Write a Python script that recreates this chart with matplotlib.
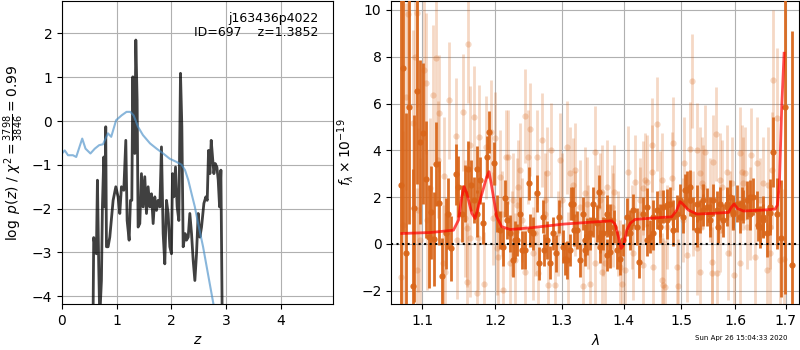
import matplotlib
matplotlib.use("Agg")
import matplotlib.pyplot as plt
from matplotlib.ticker import NullLocator, NullFormatter, FixedLocator, FixedFormatter

# ---- left panel: log p(z) ----
pz_z = [0.560, 0.568, 0.580, 0.605, 0.629, 0.648, 0.672, 0.690, 0.721, 0.739, 0.764, 0.782, 0.800, 0.813,
        0.843, 0.874, 0.935, 0.984, 1.026, 1.057, 1.087, 1.130, 1.167, 1.191, 1.228, 1.252, 1.277,
        1.295, 1.313, 1.331, 1.350, 1.374, 1.392, 1.423, 1.453, 1.484, 1.514, 1.545, 1.575, 1.606,
        1.636, 1.667, 1.697, 1.728, 1.758, 1.789, 1.819, 1.850, 1.880, 1.911, 1.941, 1.972, 2.002,
        2.021, 2.045, 2.076, 2.106, 2.137, 2.167, 2.192, 2.216, 2.253, 2.277, 2.308, 2.338, 2.369,
        2.399, 2.430, 2.460, 2.491, 2.522, 2.552, 2.595, 2.631, 2.656, 2.680, 2.705, 2.729, 2.753,
        2.778, 2.802, 2.833, 2.857, 2.882, 2.906, 2.930, 2.940]
pz_logp = [-6.0, -4.5, -2.66, -2.87, -3.03, -1.35, -3.33, -4.5, -3.64, -1.96, -0.82, -1.96, -0.13, -2.87,
           -2.87, -2.65, -1.81, -1.50, -1.73, -2.11, -1.50, -1.58, -0.44, -2.27, -2.72, -1.81, -1.81,
           1.01, -0.59, -0.74, 1.85, 0.48, -2.42, -2.34, -1.20, -1.96, -1.27, -2.11, -1.50, -1.96,
           -1.66, -2.34, -1.73, -2.04, -1.81, -1.96, -0.59, -2.57, -3.26, -1.81, -2.11, -2.87, -3.03,
           -1.20, -1.73, -1.05, -1.96, -2.27, 1.09, -0.13, -2.87, -2.57, -2.72, -2.65, -2.11, -2.57,
           -3.18, -3.64, -3.03, -2.11, -2.65, -2.42, -1.88, -1.73, -1.81, -0.67, -1.20, -0.44, -0.82,
           -1.20, -0.97, -1.05, -1.35, -1.96, -1.12, -4.5, -6.0]

prior_z = [0.00, 0.05, 0.11, 0.20, 0.26, 0.32, 0.37, 0.43, 0.52, 0.60, 0.68, 0.75, 0.84, 0.90, 0.99,
           1.09, 1.18, 1.25, 1.31, 1.39, 1.48, 1.61, 1.73, 1.85, 1.97, 2.09, 2.19, 2.25, 2.31, 2.37,
           2.43, 2.49, 2.58, 2.68, 2.77, 2.83]
prior_logp = [-0.74, -0.67, -0.78, -0.78, -0.82, -0.59, -0.40, -0.63, -0.74, -0.63, -0.55, -0.53, -0.28,
              -0.36, 0.02, 0.13, 0.21, 0.21, 0.13, -0.13, -0.32, -0.51, -0.63, -0.74, -0.86, -0.93,
              -1.00, -1.12, -1.35, -1.66, -1.96, -2.34, -2.87, -3.56, -4.18, -4.60]

# ---- right panel: spectrum ----
dark_wave = [1.0722, 1.0752, 1.0787, 1.0830, 1.0873, 1.0895, 1.0934, 1.0961, 1.1013, 1.1044, 1.1088,
             1.1115, 1.1159, 1.1182, 1.1222, 1.1267, 1.1312, 1.1348, 1.1380, 1.1453, 1.1485, 1.1531,
             1.1577, 1.1623, 1.1656, 1.1703, 1.1740, 1.1787, 1.1834, 1.1882, 1.1920, 1.1991, 1.2025,
             1.2073, 1.2112, 1.2170, 1.2219, 1.2268, 1.2317, 1.2366, 1.2440, 1.2500, 1.2565, 1.2616,
             1.2656, 1.2717, 1.2768, 1.2819, 1.2860, 1.2911, 1.2963, 1.3025, 1.3077, 1.3140, 1.3193,
             1.3235, 1.3288, 1.3341, 1.3395, 1.3448, 1.3502, 1.3556, 1.3611, 1.3665, 1.3720, 1.3775,
             1.3841, 1.3897, 1.3941, 1.3997, 1.4064, 1.4109, 1.4166, 1.4222, 1.4268, 1.4336, 1.4394,
             1.4451, 1.4509, 1.4567, 1.4626, 1.4684, 1.4743, 1.4802, 1.4861, 1.4921, 1.4981, 1.5041,
             1.5101, 1.5161, 1.5222, 1.5283, 1.5344, 1.5406, 1.5468, 1.5529, 1.5592, 1.5654, 1.5717,
             1.5780, 1.5843, 1.5906, 1.5970, 1.6034, 1.6098, 1.6163, 1.6228, 1.6293, 1.6358, 1.6423,
             1.6489, 1.6555, 1.6621, 1.6688, 1.6755, 1.6822, 1.6910, 1.6991, 1.7128,
             1.1749, 1.2145, 1.2292, 1.2390, 1.2515, 1.2726, 1.3051, 1.3171, 1.3368, 1.3502, 1.3599,
             1.3720, 1.3775, 1.4109, 1.4394, 1.4509, 1.4626, 1.4743, 1.4861, 1.5071, 1.5161, 1.5283,
             1.5406, 1.5529, 1.5683, 1.5843, 1.5970, 1.6131, 1.6293, 1.6456, 1.6555, 1.6688, 1.3775,
             1.3724, 1.3130, 1.3368, 1.3611]
dark_flux = [2.52, 7.50, -0.40, 5.87, -1.80, 1.52, 6.55, 4.37, 4.73, 2.77, 0.30,
             1.35, 0.22, 3.42, 1.75, -1.36, 0.45, 1.30, -0.19, 2.97, 2.45, 1.30,
             2.16, 3.20, 2.50, 1.88, 1.30, 2.73, 0.88, 3.73, 4.80, 3.44, 1.30,
             0.60, -0.12, 1.02, 0.45, -0.69, 0.17, 1.30, -0.26, 2.59, 0.45, 2.16,
             -0.83, 1.16, 0.17, -0.80, 0.45, -0.40, 1.16, -0.12, -0.69, 1.73, 0.60,
             0.60, -0.69, 1.30, 0.31, 0.45, 1.73, 0.88, -0.12, 0.45, 1.30, 0.45,
             0.74, -0.26, -0.62, 0.17, 1.16, 0.45, 1.45, 0.74, -0.76, 1.30, 1.59,
             0.31, 1.16, 1.45, 0.74, 1.59, 1.02, 1.73, 0.60, 1.30, 1.88, 1.16,
             2.30, 1.88, 1.30, 1.73, 1.16, 1.88, 1.59, 1.30, 1.88, 1.45, 1.73,
             1.02, 1.59, 2.02, 1.30, 1.73, 1.16, 1.59, 1.88, 1.30, 2.02, 1.45,
             0.74, 1.16, 0.45, 1.59, 3.94, 1.30, 0.24, 5.87, -0.90,
             3.19, 1.95, 0.17, -0.26, 0.59, -0.26, -0.62, 1.73, 0.17, 1.02, 2.23,
             1.02, -0.33, 0.74, 0.17, 0.45, 1.02, 1.66, 1.16, 2.30, 2.45, 0.59,
             1.45, 1.02, 0.74, 1.73, 1.38, 1.73, 2.02, 0.81, 1.02, 1.31, 1.02,
             -0.47, -0.26, -0.26, 0.30]
dark_err = [8.0, 7.0, 6.0, 5.0, 5.0, 4.0, 4.0, 3.5, 3.0, 2.5, 2.2,
            2.0, 2.0, 1.8, 1.8, 1.6, 1.5, 1.5, 1.4, 1.3, 1.3, 1.2,
            1.2, 1.2, 1.1, 1.0, 1.0, 1.0, 0.9, 0.9, 0.9, 0.9, 0.8,
            0.8, 0.8, 0.8, 0.8, 0.7, 0.7, 0.7, 0.8, 0.7, 0.7, 0.8,
            0.7, 0.7, 0.8, 0.7, 0.7, 0.8, 0.7, 0.7, 0.8, 0.7, 0.7,
            0.8, 0.7, 0.7, 0.8, 0.7, 0.7, 0.8, 0.7, 0.7, 0.8, 0.7,
            0.7, 0.8, 0.7, 0.7, 0.8, 0.7, 0.7, 0.8, 0.7, 0.7, 0.8,
            0.7, 0.7, 0.8, 0.7, 0.7, 0.8, 0.7, 0.7, 0.8, 0.7, 0.7,
            0.8, 0.7, 0.7, 0.8, 0.7, 0.7, 0.8, 0.7, 0.7, 0.8, 0.7,
            0.7, 0.8, 0.7, 0.7, 0.8, 0.7, 0.7, 0.8, 0.7, 0.8, 0.8,
            0.9, 0.9, 1.0, 1.2, 1.5, 1.5, 2.5, 8.0, 10.0,
            1.0, 0.8, 0.8, 0.8, 0.7, 0.7, 0.7, 0.7, 0.7, 0.7, 0.7,
            0.7, 0.7, 0.7, 0.7, 0.7, 0.7, 0.7, 0.7, 0.7, 0.7, 0.7,
            0.7, 0.7, 0.7, 0.7, 0.7, 0.7, 0.7, 0.7, 0.7, 0.8, 0.7,
            0.7, 0.7, 0.7, 0.7]

light_wave = [1.0722, 1.0817, 1.0934, 1.1026, 1.1048, 1.1133, 1.1182, 1.1222, 1.1357, 1.1453, 1.1554,
              1.1619, 1.1703, 1.1773, 1.1872, 1.1944, 1.1977, 1.2073, 1.2160, 1.2268, 1.2341, 1.2445,
              1.2515, 1.2616, 1.2691, 1.2768, 1.2834, 1.2973, 1.3088, 1.3130, 1.3209, 1.3288, 1.3368,
              1.3529, 1.3611, 1.3720, 1.3841, 1.3941, 1.4025, 1.4081, 1.4194, 1.4365, 1.4492, 1.4567,
              1.4655, 1.4714, 1.4861, 1.4939, 1.5059, 1.5161, 1.5203, 1.5283, 1.5437, 1.5561, 1.5642,
              1.5748, 1.5843, 1.5983, 1.6098, 1.6195, 1.6306, 1.6423, 1.6555, 1.6688, 1.6755, 1.6822,
              1.6889, 1.6977, 1.2001, 1.2194, 1.2490, 1.2366, 1.3182, 1.2121, 1.2793, 1.2896, 1.3341,
              1.3448, 1.2440, 1.2641, 1.2292, 1.2219, 1.2049, 1.2565, 1.3104, 1.3529, 1.2742, 1.3000,
              1.2317, 1.3395, 1.4492, 1.4832, 1.5344, 1.4336, 1.4394, 1.3638, 1.4684, 1.4655, 1.4921,
              1.3638, 1.3692, 1.3969, 1.4336, 1.4509, 1.5101, 1.5344, 1.5283, 1.4166, 1.3830, 1.4279,
              1.5592, 1.6098, 1.6131, 1.6721, 1.6655, 1.5561, 1.5654, 1.5868, 1.6621, 1.6391, 1.6293,
              1.5375, 1.5717, 1.5945, 1.6163, 1.0904, 1.0787, 1.0882, 1.1647, 1.1213, 1.1289, 1.1102,
              1.0947, 1.1057, 1.0752, 1.1577, 1.1600, 1.1647, 1.1462, 1.0969, 1.2025, 1.1764, 1.1280,
              1.1303, 1.1600, 1.1848, 1.1740, 1.0926,
              1.3665, 1.3801, 1.3912, 1.4136, 1.4279, 1.4626, 1.4743, 1.5041, 1.5222, 1.5406, 1.5529,
              1.5717, 1.5906, 1.6228, 1.6489, 1.6688, 1.2097, 1.2243, 1.2390, 1.2590, 1.2742, 1.2947,
              1.3209, 1.3421, 1.3583]
light_flux = [-1.40, 9.83, 9.86, 7.43, 6.86, 6.37, 7.93, 5.58, 6.15, 4.61, 5.62,
              8.53, 5.41, 4.58, 4.13, 4.80, 1.09, 2.87, 3.73, 1.88, 2.45, 5.48,
              4.90, 3.73, 4.44, 3.02, 4.01, 3.59, 4.13, 3.02, 3.16, 1.59, 2.16,
              3.91, 1.88, 2.45, 2.23, -0.97, -1.12, 3.06, 2.66, 2.73, 4.23, 5.13,
              2.73, -1.83, 4.30, -1.79, 3.44, 4.08, 6.96, 4.01, 3.94, -1.26, 4.69,
              2.45, 3.09, -1.33, -0.83, 3.02, 3.80, 3.44, 2.59, -0.40, 7.00, 5.37,
              -0.69, -0.66, 4.51, 3.73, 3.73, 3.16, 2.52, -1.97, -1.76, -1.76, -1.80,
              -1.71, -1.19, -1.26, -0.69, -0.83, -0.55, -0.40, -0.62, -0.83, 1.88, 1.88,
              1.66, 1.73, 3.09, 2.80, 3.02, 2.38, 2.66, 2.23, -1.76, -1.54, -0.97,
              -1.19, -0.83, -1.69, -0.90, -0.97, -0.47, -1.19, -0.19, -0.40, 1.02, 1.30,
              3.52, 3.87, 3.09, 3.16, 2.52, -0.76, -1.26, -0.40, -1.12, -0.55, 1.30,
              2.59, 2.73, 2.59, 2.59, 8.00, 6.29, 5.15, 4.23, 3.59, 2.92, 2.38,
              1.45, 1.02, 0.81, 1.09, 0.67, 0.24, 0.17, 0.17, -0.19, 0.24, -0.83,
              -1.19, -1.62, -1.69, -2.11, -1.12,
              0.45, 1.59, 0.45, 0.74, 1.88, 2.16, 0.74, 1.02, 1.30, 2.45, 1.88,
              0.60, 1.30, 0.74, 1.88, 0.74, 1.30, 0.45, 1.02, 0.45, 1.30, 0.45,
              1.30, 0.74, 1.59]
light_err = [4.0, 4.0, 4.0, 3.0, 3.0, 3.0, 3.0, 2.5, 2.5, 2.5, 2.5,
             2.5, 2.2, 2.2, 2.2, 2.2, 2.0, 2.0, 2.0, 2.0, 2.0, 2.0,
             2.0, 2.0, 2.0, 2.0, 2.0, 2.0, 2.0, 2.0, 2.0, 2.0, 2.0,
             2.0, 2.0, 2.0, 2.0, 2.0, 2.0, 2.0, 2.0, 2.0, 2.0, 2.0,
             2.0, 2.0, 2.0, 2.0, 2.0, 2.0, 2.0, 2.0, 2.0, 2.0, 2.0,
             2.0, 2.0, 2.0, 2.0, 2.0, 2.0, 2.0, 2.0, 2.2, 3.0, 3.0,
             3.0, 3.0, 2.0, 2.0, 2.0, 2.0, 2.0, 2.0, 2.0, 2.0, 2.0,
             2.0, 2.0, 2.0, 2.0, 2.0, 2.0, 2.0, 2.0, 2.0, 2.0, 2.0,
             2.0, 2.0, 2.0, 2.0, 2.0, 2.0, 2.0, 2.0, 2.0, 2.0, 2.0,
             2.0, 2.0, 2.0, 2.0, 2.0, 2.0, 2.0, 2.0, 2.0, 2.0, 2.0,
             2.0, 2.0, 2.0, 2.5, 2.5, 2.0, 2.0, 2.0, 2.0, 2.0, 2.0,
             2.0, 2.0, 2.0, 2.0, 4.0, 4.0, 4.0, 2.5, 2.5, 2.5, 3.0,
             3.5, 3.0, 4.0, 2.5, 2.5, 2.5, 2.5, 3.5, 2.0, 2.2, 2.5,
             2.5, 2.5, 2.2, 2.2, 3.5,
             1.8, 1.8, 1.8, 1.8, 1.8, 1.8, 1.8, 1.8, 1.8, 1.8, 1.8,
             1.8, 1.8, 1.8, 1.8, 1.8, 1.8, 1.8, 1.8, 1.8, 1.8, 1.8,
             1.8, 1.8, 1.8]

model_wave = [1.0731, 1.1102, 1.1416, 1.1485, 1.1531, 1.1563, 1.1600, 1.1670, 1.1717, 1.1787, 1.1881,
              1.1914, 1.1952, 1.2024, 1.2096, 1.2218, 1.2515, 1.3024, 1.3556, 1.3802, 1.3857, 1.3913,
              1.3958, 1.3997, 1.4053, 1.4109, 1.4194, 1.4394, 1.4684, 1.4831, 1.4921, 1.4980, 1.5028,
              1.5131, 1.5282, 1.5591, 1.5874, 1.5937, 1.5982, 1.6046, 1.6161, 1.6554, 1.6787, 1.6834,
              1.6875, 1.6922, 1.6970]
model_flux = [0.45, 0.49, 0.59, 1.02, 2.02, 2.45, 2.16, 1.31, 1.09, 1.88, 2.87,
              3.09, 2.45, 1.16, 0.74, 0.62, 0.69, 0.85, 0.95, 0.99, 0.85, 0.31,
              -0.19, -0.05, 0.59, 0.88, 1.05, 1.09, 1.14, 1.16, 1.45, 1.81, 1.71,
              1.45, 1.28, 1.31, 1.35, 1.59, 1.71, 1.52, 1.41, 1.45, 1.49, 1.66,
              2.59, 5.87, 8.15]

wave_ticks = [1.1, 1.2, 1.3, 1.4, 1.5, 1.6, 1.7]
wave_ticklabels = ['1.1', '1.2', '1.3', '1.4', '1.5', '1.6', '1.7']

obj_name = 'j163436p4022'
obj_id = 697
z_best = 1.3852
timestamp = 'Sun Apr 26 15:04:33 2020'

spec_color = '#d9661a'

fig = plt.figure(figsize=(8, 3.5), dpi=100)
ax1 = fig.add_axes([0.0775, 0.131, 0.339, 0.866])
ax2 = fig.add_axes([0.489, 0.131, 0.510, 0.866])

# left
ax1.plot(pz_z, pz_logp, color='k', alpha=0.75, lw=2)
ax1.plot(prior_z, prior_logp, color='#4a90c8', alpha=0.65, lw=1.5)
ax1.set_xlim(0, 4.96)
ax1.set_ylim(-4.18, 2.74)
ax1.set_xticks([0, 1, 2, 3, 4])
ax1.set_yticks([-4, -3, -2, -1, 0, 1, 2])
ax1.grid(True)
ax1.set_axisbelow(True)
ax1.set_xlabel('$z$')
ax1.set_ylabel(r'$\log\ p(z)$ / $\chi^2=\frac{3798}{3846}=0.99$')
ax1.text(0.945, 0.965, '{0}\nID={1}    z={2:.4f}'.format(obj_name, obj_id, z_best),
         transform=ax1.transAxes, ha='right', va='top', fontsize=9, linespacing=1.1)

# right
ax2.errorbar(light_wave, light_flux, yerr=light_err, fmt='o', color=spec_color, alpha=0.25,
             ms=4.5, lw=2, capsize=0, mew=0, zorder=2)
ax2.errorbar(dark_wave, dark_flux, yerr=dark_err, fmt='o', color=spec_color, alpha=0.95,
             ms=4.5, lw=2, capsize=0, mew=0, zorder=3)
ax2.plot(model_wave, model_flux, color='r', alpha=0.7, lw=2, zorder=4)
ax2.axhline(0, color='k', ls=':', lw=1.5, zorder=5)
ax2.set_xscale('log')
ax2.xaxis.set_major_locator(FixedLocator(wave_ticks))
ax2.xaxis.set_major_formatter(FixedFormatter(wave_ticklabels))
ax2.xaxis.set_minor_locator(NullLocator())
ax2.xaxis.set_minor_formatter(NullFormatter())
ax2.set_xlim(1.0595, 1.728)
ax2.set_ylim(-2.57, 10.38)
ax2.set_yticks([-2, 0, 2, 4, 6, 8, 10])
ax2.grid(True)
ax2.set_axisbelow(True)
ax2.set_xlabel(r'$\lambda$')
ax2.set_ylabel(r'$f_\lambda \times 10^{-19}$')

fig.text(0.984, 0.025, timestamp, ha='right', va='bottom', fontsize=5)

fig.savefig('out.png', dpi=100)
